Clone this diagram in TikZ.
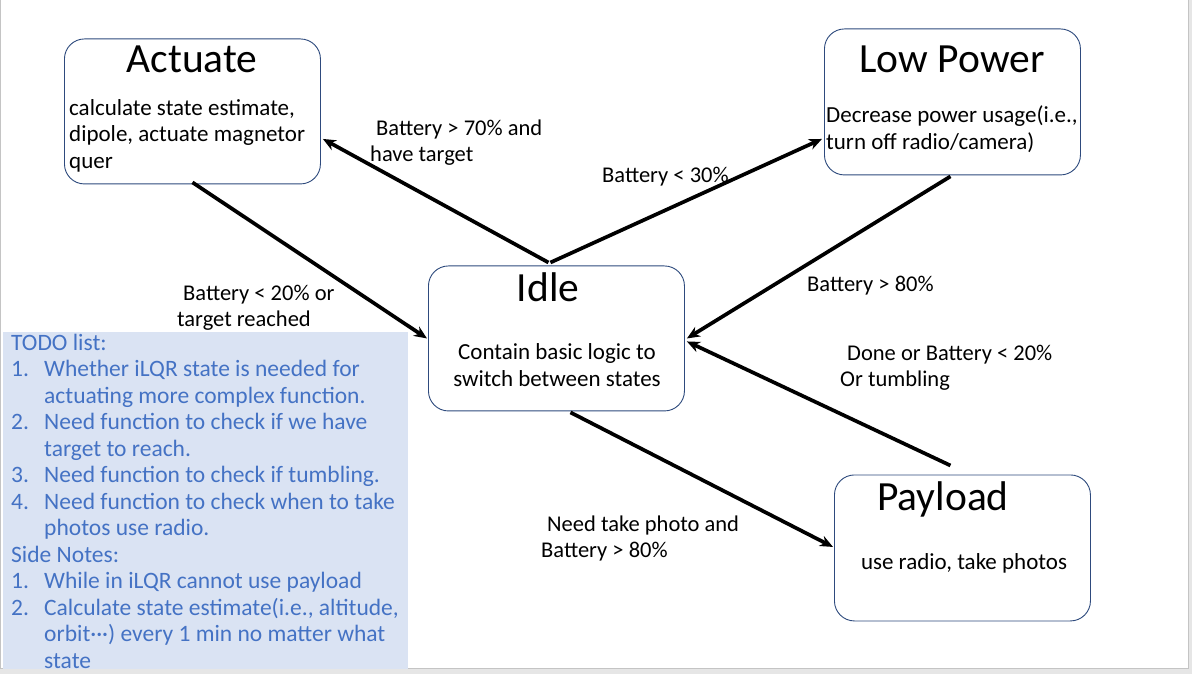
\documentclass[tikz,border=0pt]{standalone}
\usepackage{fontspec}
\setmainfont{Carlito}
\usetikzlibrary{arrows.meta,calc}
\definecolor{boxline}{HTML}{2E4A7D}
\definecolor{notefill}{HTML}{DAE3F3}
\definecolor{notetext}{HTML}{4472C4}
\definecolor{pagebg}{HTML}{E6E6E6}
\definecolor{pageedge}{HTML}{C4C4C4}
\tikzset{
  statebox/.style={draw=boxline, line width=0.9pt, rounded corners=20pt, fill=white, anchor=north west, inner sep=0pt},
  titletext/.style={font=\fontsize{41.5}{46}\selectfont, inner sep=0pt, anchor=base},
  bodytext/.style={font=\fontsize{23}{26.5}\selectfont, inner sep=0pt, align=left, anchor=base west},
  labeltext/.style={font=\fontsize{22.5}{26}\selectfont, inner sep=0pt, align=left, anchor=base west},
  notebox/.style={fill=notefill, draw=none, anchor=north west, inner sep=0pt},
  notetxt/.style={font=\fontsize{23.5}{26.5}\selectfont, text=notetext, inner sep=0pt, align=left, anchor=base west},
  arr/.style={line width=3.7pt, -{Stealth[length=13pt,width=11pt]}}
}
\newcommand{\num}[1]{\makebox[33pt][l]{#1}}
\newcommand{\cont}{\hspace*{33pt}}
\begin{document}
\begin{tikzpicture}[x=1pt,y=-1pt]
\fill[pagebg] (0,0) rectangle (1192,673);
\fill[white] (1,0) rectangle (1188,668);
\draw[pageedge, line width=1pt] (0.5,0) -- (0.5,668) -- (1188,668) -- (1188,0);
\useasboundingbox (0,0) rectangle (1192,673);

% state boxes
\node[statebox, minimum width=256pt, minimum height=145pt] (act) at (64,38) {};
\node[statebox, minimum width=256pt, minimum height=146pt] (low) at (824,28) {};
\node[statebox, minimum width=256pt, minimum height=145pt] (idle) at (428,265) {};
\node[statebox, minimum width=256pt, minimum height=146pt] (pay) at (834,474) {};

% titles
\node[titletext] (actT) at (192,72) {Actuate};
\node[titletext] (lowT) at (952,72) {Low Power};
\node[titletext] (idleT) at (548,301) {Idle};
\node[titletext] (payT) at (943,510) {Payload};

% bodies (anchored at the baseline of their last line)
\node[bodytext] (actB) at (69,168) {calculate state estimate,\\dipole, actuate magnetor\\quer};
\node[bodytext] (lowB) at (826,149) {Decrease power usage(i.e.,\\turn off radio/camera)};
\node[bodytext, align=center, anchor=base] (idleB) at (557,386) {Contain basic logic to\\switch between states};
\node[bodytext, anchor=base] (payB) at (964,569) {use radio, take photos};

% notes
\node[notebox, minimum width=405pt, minimum height=337pt] (notes) at (3,331) {};
\node[notetxt] (todo) at (11,667.5) {TODO list:\\
\num{1.}Whether iLQR state is needed for\\
\cont actuating more complex function.\\
\num{2.}Need function to check if we have\\
\cont target to reach.\\
\num{3.}Need function to check if tumbling.\\
\num{4.}Need function to check when to take\\
\cont photos use radio.\\
Side Notes:\\
\num{1.}While in iLQR cannot use payload\\
\num{2.}Calculate state estimate(i.e., altitude,\\
\cont orbit\textperiodcentered\textperiodcentered\textperiodcentered) every 1 min no matter what\\
\cont state};

% connectors
\coordinate (iTopA) at ($(idle.north)+(-8,-3)$);
\coordinate (iTopB) at ($(idle.north)+(-6,-3)$);
\coordinate (actIn) at ($(act.east)+(2,27.5)$);
\coordinate (lowIn) at ($(low.west)+(-2,37)$);
\coordinate (actOut) at ($(act.south)+(0,-2)$);
\coordinate (idleInL) at ($(idle.west)+(-1,0)$);
\coordinate (lowOut) at ($(low.south)+(-2,1)$);
\coordinate (idleInR1) at ($(idle.east)+(2,0)$);
\coordinate (payOut) at ($(pay.north)+(-12,-9)$);
\coordinate (idleInR2) at ($(idle.east)+(2,3)$);
\coordinate (idleOut) at ($(idle.south)+(14,1)$);
\coordinate (payIn) at ($(pay.west)+(-1,-1)$);

\draw[arr] (iTopA) -- (actIn);
\draw[arr] (iTopB) -- (lowIn);
\draw[arr] (actOut) -- (idleInL);
\draw[arr] (lowOut) -- (idleInR1);
\draw[arr] (payOut) -- (idleInR2);
\draw[arr] (idleOut) -- (payIn);

% labels (anchored at the baseline of their last line)
\node[labeltext] (l1) at (370,161) {\hspace*{6pt}Battery > 70\% and\\have target};
\node[labeltext] (l2) at (602,182) {Battery < 30\%};
\node[labeltext] (l3) at (177,326) {\hspace*{6pt}Battery < 20\% or\\target reached};
\node[labeltext] (l4) at (807,291) {Battery > 80\%};
\node[labeltext] (l5) at (840,386) {\hspace*{7pt}Done or Battery < 20\%\\Or tumbling};
\node[labeltext] (l6) at (541,557) {\hspace*{6pt}Need take photo and\\Battery > 80\%};
\end{tikzpicture}
\end{document}
